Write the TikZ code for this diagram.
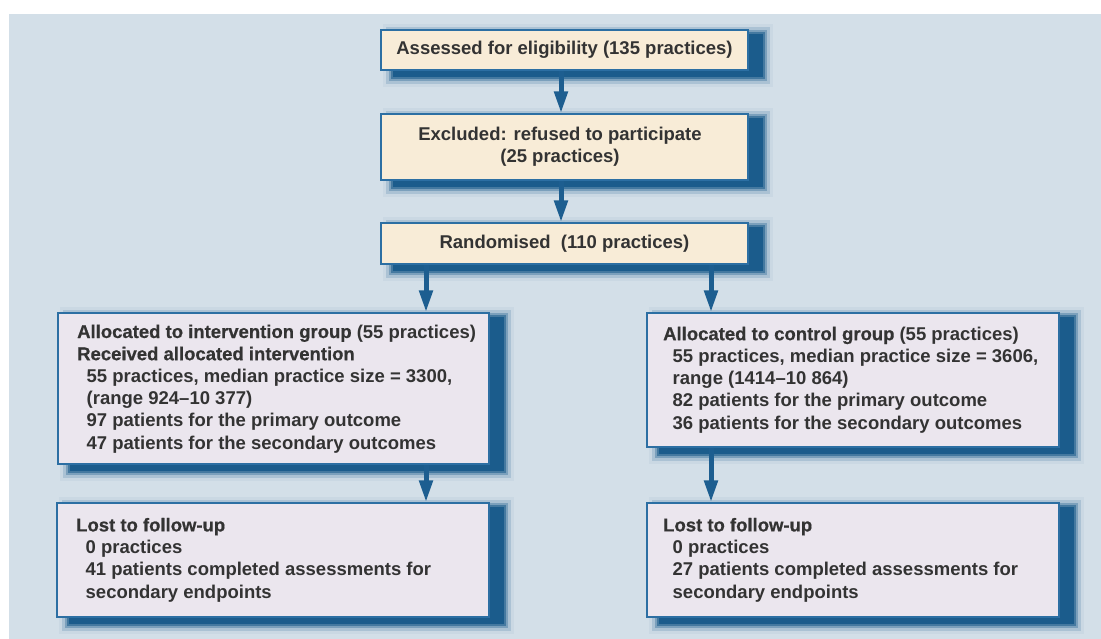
\documentclass[tikz,border=0pt]{standalone}
\usepackage{fontspec}
\setmainfont{Liberation Sans}
\newfontface\heavyfont{Liberation Sans Bold}[FakeBold=0.6]
\usetikzlibrary{arrows.meta}
\definecolor{bgc}{HTML}{D3DFE8}
\definecolor{shc}{HTML}{1B5C8C}
\definecolor{arrc}{HTML}{1D5E90}
\definecolor{borderc}{HTML}{2C6FA3}
\definecolor{cream}{HTML}{F8ECD7}
\definecolor{lav}{HTML}{EBE6EE}
\definecolor{txtc}{HTML}{333333}
\pgfdeclarelayer{bglayer}
\pgfdeclarelayer{shadowlayer}
\pgfsetlayers{bglayer,shadowlayer,main}
\newcommand{\hv}[1]{{\heavyfont #1}}
\newcommand{\ind}{\hspace*{9.5pt}}
\tikzset{
  boxbase/.style={draw=borderc, line width=1.4pt, rectangle, inner sep=0pt, text=txtc,
    font=\fontsize{18.5}{22.2}\selectfont\bfseries},
  topbox/.style={boxbase, fill=cream, align=center},
  lowbox/.style={boxbase, fill=lav},
  boxtext/.style={anchor=base west, inner sep=0pt, align=left, text=txtc,
    font=\fontsize{18.5}{22.2}\selectfont\bfseries},
  arr/.style={draw=arrc, line width=5pt, -{Triangle[width=13pt,length=22pt]}, shorten <=0pt}
}
\newcommand{\dropshadow}[1]{%
  \fill[shc!5!bgc]  ([shift={(3,-5)}]#1.north west) rectangle ([shift={(24,16)}]#1.south east);
  \fill[shc!22!bgc] ([shift={(6,-2)}]#1.north west) rectangle ([shift={(21,13)}]#1.south east);
  \fill[shc!48!bgc] ([shift={(9,1)}]#1.north west) rectangle ([shift={(18,10)}]#1.south east);
  \fill[shc!78!bgc] ([shift={(11,3)}]#1.north west) rectangle ([shift={(16,8)}]#1.south east);
  \fill[shc]        ([shift={(13,5)}]#1.north west) rectangle ([shift={(14,6)}]#1.south east);
}
\begin{document}
\begin{tikzpicture}[x=1pt,y=-1pt]
\useasboundingbox (0,0) rectangle (1101,639);
\begin{pgfonlayer}{bglayer}
  \fill[white] (0,0) rectangle (1101,639);
  \fill[bgc] (9,14) rectangle (1101,639);
\end{pgfonlayer}

% boxes
\node[topbox, minimum width=367pt, minimum height=40pt] (b1) at (564.5,50)
  {Assessed for eligibility (135 practices)};
\node[topbox, minimum width=367pt, minimum height=66pt] (b2) at (564.5,147)
  {\hspace*{-9pt}Excluded: refused to participate\\\hspace*{-9pt}(25 practices)};
\node[topbox, minimum width=367pt, minimum height=41pt] (b3) at (564.5,243.5)
  {Randomised\ \ (110 practices)};
\node[lowbox, minimum width=431pt, minimum height=151pt] (int) at (273.5,388.5) {};
\node[lowbox, minimum width=412pt, minimum height=134pt] (ctl) at (853,380) {};
\node[lowbox, minimum width=432pt, minimum height=114pt] (lostL) at (273,560) {};
\node[lowbox, minimum width=412pt, minimum height=114pt] (lostR) at (853,560) {};

\begin{pgfonlayer}{shadowlayer}
  \dropshadow{b1}\dropshadow{b2}\dropshadow{b3}
  \dropshadow{int}\dropshadow{ctl}\dropshadow{lostL}\dropshadow{lostR}
\end{pgfonlayer}

% texts (anchor at baseline of last line)
\node[boxtext] (intT) at (77,449) {%
  \hv{Allocated to intervention group} (55 practices)\\
  \hv{Received allocated intervention}\\
  \ind 55 practices, median practice size = 3300,\\
  \ind (range 924–10 377)\\
  \ind 97 patients for the primary outcome\\
  \ind 47 patients for the secondary outcomes};
\node[boxtext] (ctlT) at (663,429) {%
  \hv{Allocated to control group} (55 practices)\\
  \ind 55 practices, median practice size = 3606,\\
  \ind range (1414–10 864)\\
  \ind 82 patients for the primary outcome\\
  \ind 36 patients for the secondary outcomes};
\node[boxtext] (lostLT) at (76,598) {%
  \hv{Lost to follow-up}\\
  \ind 0 practices\\
  \ind 41 patients completed assessments for\\
  \ind secondary endpoints};
\node[boxtext] (lostRT) at (663,598) {%
  \hv{Lost to follow-up}\\
  \ind 0 practices\\
  \ind 27 patients completed assessments for\\
  \ind secondary endpoints};

% connectors
\coordinate (xm) at (561,0);
\coordinate (xl) at (426,0);
\coordinate (xr) at (711,0);
\draw[arr] (b1.south -| xm) -- (b2.north -| xm);
\draw[arr] (b2.south -| xm) -- (b3.north -| xm);
\draw[arr] (b3.south -| xl) -- (int.north -| xl);
\draw[arr] (b3.south -| xr) -- (ctl.north -| xr);
\draw[arr] (int.south -| xl) -- (lostL.north -| xl);
\draw[arr] (ctl.south -| xr) -- (lostR.north -| xr);
\end{tikzpicture}
\end{document}
